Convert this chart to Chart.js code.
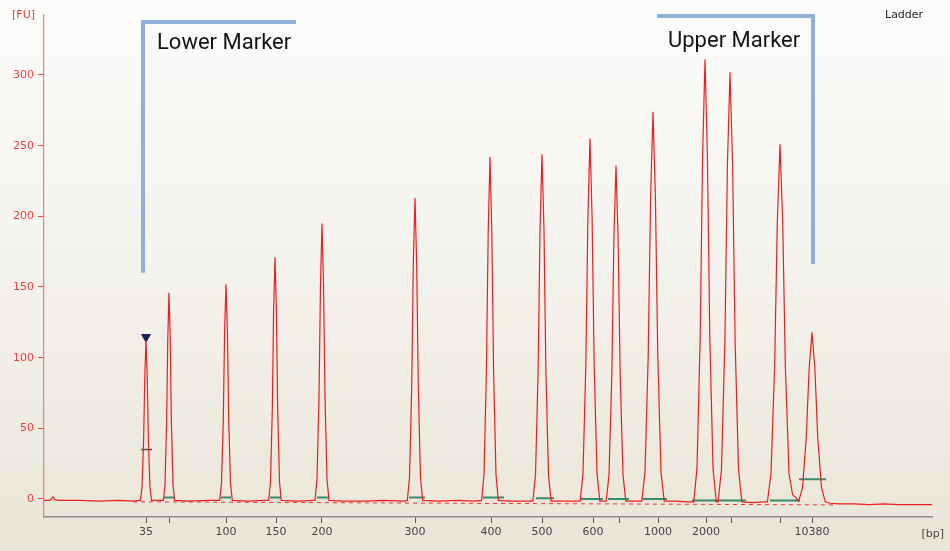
<!DOCTYPE html>
<html>
<head>
<meta charset="utf-8">
<script src="https://cdn.jsdelivr.net/npm/chart.js@4.4.0/dist/chart.umd.min.js"></script>
<style>
  html, body { margin: 0; padding: 0; }
  body {
    width: 950px; height: 551px; overflow: hidden;
    background: linear-gradient(#fcfcfb 0%, #f5f3ee 45%, #e9e5d7 100%);
  }
  canvas { display: block; }
</style>
</head>
<body>
<canvas id="myChart" width="950" height="551"></canvas>
<script>
var ctx = document.getElementById("myChart").getContext("2d");

// migration time (s) of the ladder ticks and their size labels
const tickTimes = [30.2, 32.5, 38.2, 43.2, 47.8, 57.1, 64.7, 69.8, 74.9, 77.6, 81.4, 86.2, 88.7, 93.6, 96.8];
const tickLabels = ["35", "", "100", "150", "200", "300", "400", "500", "600", "", "1000", "2000", "", "", "10380"];
const fuTicks = [0, 50, 100, 150, 200, 250, 300];

// electropherogram trace: [time, FU]
const trace = [
  [20.0, -1], [20.6, -1], [20.9, 1.5], [21.1, -0.5], [21.5, -1], [23.5, -1], [25.5, -1.5], [27.5, -1], [29.0, -1.5],
  [29.64, -1], [29.8, 8], [29.96, 41], [30.08, 87], [30.2, 112], [30.32, 87], [30.44, 41], [30.6, 8], [30.76, -1],
  [31.5, -1],
  [31.94, -1], [32.1, 10], [32.26, 54], [32.38, 114], [32.5, 146], [32.62, 114], [32.74, 54], [32.9, 10], [33.06, -1],
  [34.5, -1.5], [36.5, -1],
  [37.57, -1], [37.75, 11], [37.93, 56], [38.06, 119], [38.2, 152], [38.34, 119], [38.47, 56], [38.65, 11], [38.83, -1],
  [40.5, -1.5], [42.0, -1],
  [42.47, -1], [42.65, 12], [42.83, 63], [42.96, 133], [43.1, 171], [43.24, 133], [43.37, 63], [43.55, 12], [43.73, -1],
  [45.5, -1.5], [47.0, -1],
  [47.1, -1], [47.3, 14], [47.5, 72], [47.65, 152], [47.8, 195], [47.95, 152], [48.1, 72], [48.3, 14], [48.5, -1],
  [50.0, -1.5], [52.0, -1.5], [54.0, -1], [56.0, -1.5],
  [56.33, -1], [56.55, 15], [56.77, 79], [56.93, 166], [57.1, 213], [57.27, 166], [57.43, 79], [57.65, 15], [57.87, -1],
  [59.5, -1.5], [61.5, -1], [63.0, -1.5],
  [63.76, -1], [64.0, 17], [64.24, 90], [64.42, 189], [64.6, 242], [64.78, 189], [64.96, 90], [65.2, 17], [65.44, -1],
  [66.5, -1.5], [68.2, -1.5],
  [68.89, -1.5], [69.15, 17], [69.41, 90], [69.6, 190], [69.8, 244], [70.0, 190], [70.19, 90], [70.45, 17], [70.71, -1.5],
  [72.0, -1.5], [73.3, -1.5],
  [73.62, -1.5], [73.9, 18], [74.18, 94], [74.39, 199], [74.6, 255], [74.81, 199], [75.02, 94], [75.3, 18], [75.58, -1.5],
  [76.22, -1.5], [76.5, 17], [76.78, 87], [76.99, 184], [77.2, 236], [77.41, 184], [77.62, 87], [77.9, 17], [78.18, -1.5],
  [79.0, -1.5],
  [79.78, -1.5], [80.1, 19], [80.42, 101], [80.66, 214], [80.9, 274], [81.14, 214], [81.38, 101], [81.7, 19], [82.02, -1.5],
  [83.0, -1.5], [84.5, -2],
  [84.98, -2], [85.3, 22], [85.62, 115], [85.86, 243], [86.1, 311], [86.34, 243], [86.58, 115], [86.9, 22], [87.22, -2],
  [87.41, -2], [87.75, 21], [88.09, 112], [88.34, 236], [88.6, 302], [88.86, 236], [89.11, 112], [89.45, 21], [89.79, -2],
  [90.8, -2.5], [92.0, -2],
  [92.34, -2], [92.7, 18], [93.06, 93], [93.33, 196], [93.6, 251], [93.87, 196], [94.14, 93], [94.5, 18], [94.86, 3],
  [95.2, 1],
  [95.47, -1.5], [95.85, 8], [96.23, 44], [96.51, 92], [96.8, 118], [97.09, 92], [97.37, 44], [97.75, 8], [98.13, -2],
  [98.6, -3], [99.5, -3.5], [101.0, -3.5], [102.5, -4], [104.0, -3.5], [105.5, -4], [107.0, -4], [108.8, -4]
];

// fitted baseline (dashed)
const baseline = [[28.9, -2], [99.1, -4.2]];

// peak integration bars: [start, end, FU]
const peakBars = [
  [32.0, 33.1, 1], [37.7, 38.7, 1], [42.6, 43.7, 1], [47.3, 48.5, 1], [56.5, 58.1, 1],
  [63.9, 66.0, 1], [69.2, 71.0, 0.5], [73.7, 75.9, 0], [76.4, 78.5, 0], [79.9, 82.3, 0],
  [84.8, 90.2, -1], [92.6, 95.6, -1], [95.5, 98.2, 14]
];
const markerBar = [29.7, 30.8, 35];
const markerPeak = [30.2, 114.6];

// marker brackets
const lowerBracket = [[45.2, 337.5], [29.9, 337.5], [29.9, 160]];
const upperBracket = [[81.3, 341.7], [96.9, 341.7], [96.9, 166.3]];

function toXY(arr) {
  return arr.map((p) => ({ x: p[0], y: p[1] }));
}

function barsToXY(bars) {
  const out = [];
  bars.forEach((b) => {
    out.push({ x: b[0], y: b[2] }, { x: b[1], y: b[2] }, { x: b[1], y: null });
  });
  return out;
}

const textPlugin = {
  id: "textPlugin",
  afterDraw(chart) {
    const { ctx, chartArea, scales } = chart;
    const x = scales.x, y = scales.y;
    ctx.save();
    ctx.textBaseline = "alphabetic";
    ctx.fillStyle = "#141414";
    ctx.font = "22px Roboto";
    ctx.fillText("Lower Marker", x.getPixelForValue(31.3), y.getPixelForValue(318.4));
    ctx.fillText("Upper Marker", x.getPixelForValue(82.4), y.getPixelForValue(319.8));
    ctx.textBaseline = "middle";
    ctx.font = "11px 'DejaVu Sans'";
    ctx.fillStyle = "#222";
    ctx.fillText("Ladder", 885, 15);
    ctx.fillStyle = "#ee3b3b";
    ctx.textAlign = "right";
    ctx.fillText("[FU]", chartArea.left - 9, 15);
    ctx.fillStyle = "#444";
    ctx.fillText("[bp]", 944, 534);
    ctx.restore();
  },
};

new Chart(ctx, {
  type: "line",
  data: {
    datasets: [
      {
        data: toXY(baseline),
        borderColor: "#f03030",
        borderWidth: 1,
        borderDash: [4, 4],
        pointRadius: 0,
      },
      {
        data: toXY(trace),
        borderColor: "#f01c1c",
        borderWidth: 1.2,
        pointRadius: 0,
      },
      {
        data: barsToXY(peakBars),
        borderColor: "#3a8a6e",
        borderWidth: 2,
        pointRadius: 0,
        spanGaps: false,
      },
      {
        data: barsToXY([markerBar]),
        borderColor: "#3d5a50",
        borderWidth: 1.5,
        pointRadius: 0,
        spanGaps: false,
      },
      {
        data: [{ x: markerPeak[0], y: markerPeak[1] }],
        showLine: false,
        pointStyle: "triangle",
        rotation: 180,
        pointRadius: 5,
        backgroundColor: "#1c1c5c",
        borderColor: "#1c1c5c",
      },
      {
        data: toXY(lowerBracket),
        borderColor: "#8fb0da",
        borderWidth: 4,
        pointRadius: 0,
        clip: false,
      },
      {
        data: toXY(upperBracket),
        borderColor: "#8fb0da",
        borderWidth: 4,
        pointRadius: 0,
        clip: false,
      },
    ],
  },
  options: {
    responsive: false,
    animation: false,
    layout: { padding: { top: 15, right: 18, left: 0, bottom: 0 } },
    plugins: { legend: { display: false }, tooltip: { enabled: false } },
    scales: {
      x: {
        type: "linear",
        min: 20.0,
        max: 108.8,
        afterFit(scale) {
          scale.height = 34;
        },
        afterBuildTicks(scale) {
          scale.ticks = tickTimes.map((v) => ({ value: v }));
        },
        grid: { drawOnChartArea: false, tickLength: 6, tickColor: "#555" },
        border: { color: "#8c8c8c", width: 1.5 },
        ticks: {
          autoSkip: false,
          maxRotation: 0,
          padding: 3,
          color: "#444",
          font: { family: "DejaVu Sans", size: 11 },
          callback(value, index) {
            return tickLabels[index];
          },
        },
      },
      y: {
        min: -12.74,
        max: 342.45,
        afterFit(scale) {
          scale.width = 44;
        },
        afterBuildTicks(scale) {
          scale.ticks = fuTicks.map((v) => ({ value: v }));
        },
        grid: { drawOnChartArea: false, tickLength: 6, tickColor: "#ee4444" },
        border: { color: "#f07c7c", width: 1.2 },
        ticks: {
          padding: 4,
          color: "#ee3b3b",
          font: { family: "DejaVu Sans", size: 11 },
        },
      },
    },
  },
  plugins: [textPlugin],
});
</script>
</body>
</html>
